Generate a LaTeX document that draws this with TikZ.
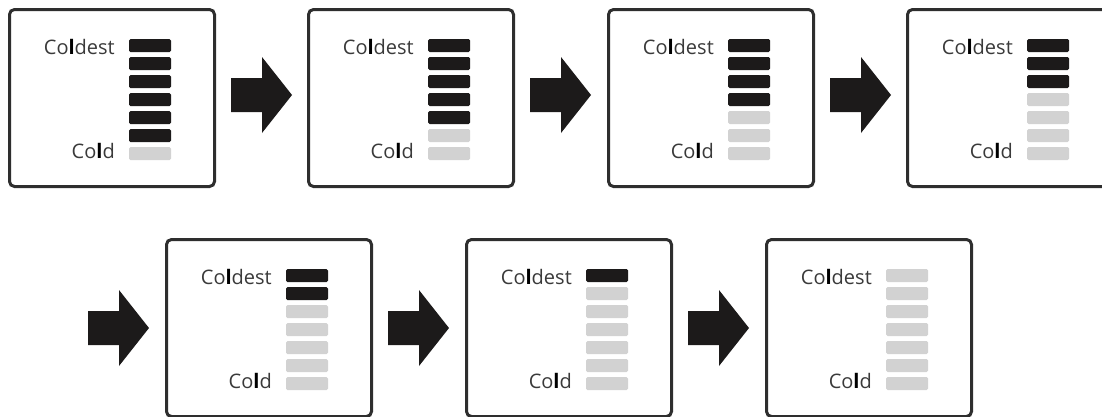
\documentclass[tikz,border=0pt]{standalone}
\usepackage{fontspec}
\setmainfont{Open Sans}
\definecolor{bardark}{HTML}{1C1A1A}
\definecolor{barlight}{HTML}{D2D2D2}
\definecolor{framec}{HTML}{2E2E2E}
\definecolor{txtc}{HTML}{3A3A3A}
\tikzset{
  panelbox/.style={draw=framec, line width=3pt, rounded corners=5pt, minimum width=205pt, minimum height=177pt, anchor=north west, inner sep=0pt, fill=white},
  lbl/.style={anchor=base east, inner sep=0pt, text=txtc, font=\fontsize{20}{20}\selectfont},
  darkbar/.style={fill=bardark, rounded corners=1.5pt},
  lightbar/.style={fill=barlight, rounded corners=1.5pt},
  blockarrow/.style={fill=bardark}
}
\newcommand\hl{\textcolor{black}{\textbf{l}}}
\begin{document}
\begin{tikzpicture}[x=1pt,y=-1pt]
\useasboundingbox (0,0) rectangle (1102,416);
\clip (0,0) rectangle (1102,416);
\foreach \n/\bx/\by/\k in {1/8/8/6, 2/307/8/5, 3/607/8/4, 4/906/8/3, 5/165/238/2, 6/465/238/1, 7/765/238/0} {
  \node[panelbox] (box\n) at (\bx,\by) {};
  \node[lbl] (hot\n) at (\bx+107,\by+46) {Co\hl dest};
  \node[lbl] (cold\n) at (\bx+107,\by+150) {Co\hl d};
  \foreach \i in {0,...,6} {
    \pgfmathsetmacro\ty{\by+31+18*\i}
    \ifnum\i<\k
      \fill[darkbar] (\bx+121,\ty) rectangle ++(42,13);
    \else
      \fill[lightbar] (\bx+121,\ty) rectangle ++(42,13);
    \fi
  }
}
\foreach \a/\ax/\ay in {1/231/95, 2/530/95, 3/830/95, 4/88/328, 5/388/328, 6/688/328} {
  \coordinate (arr\a) at (\ax,\ay);
  \fill[blockarrow] (arr\a) ++(0,-17) -- ++(31,0) -- ++(0,-21) -- ++(30,38) -- ++(-30,38) -- ++(0,-21) -- ++(-31,0) -- cycle;
}
\end{tikzpicture}
\end{document}
